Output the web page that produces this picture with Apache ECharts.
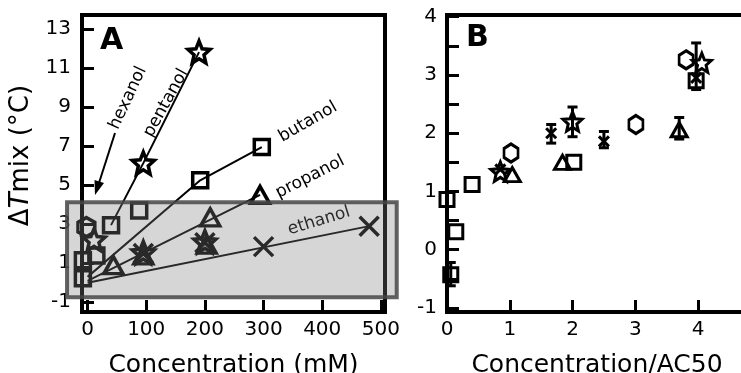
<!DOCTYPE html>
<html>
<head>
<meta charset="utf-8">
<script src="https://cdn.jsdelivr.net/npm/echarts@6/dist/echarts.min.js"></script>
<style>
html,body{margin:0;padding:0;background:#fff}
#chart{width:741px;height:373px}
</style>
</head>
<body>
<div id="chart"></div>
<script>
// tick labels
const aXTicks = [0, 100, 200, 300, 400, 500];
const aYTicks = [-1, 1, 3, 5, 7, 9, 11, 13];
const bXTicks = [0, 1, 2, 3, 4];
const bYLabels = [-1, 0, 1, 2, 3, 4];
const bYTicks = [-1, -0.5, 0, 0.5, 1, 1.5, 2, 2.5, 3, 3.5, 4];

// panel A: [concentration mM, dTmix]
const ethanolA = [[95, 1.5], [200, 2.05], [300, 1.85], [480, 2.9]];
const propanolA = [[44, 0.9], [95, 1.4], [203, 1.95], [209, 3.35], [294, 4.5]];
const butanolA = [[-8, 0.23], [-8, 1.15], [15, 1.4], [40, 2.95], [88, 3.7], [192, 5.25], [297, 6.95]];
const pentanolA = [[11, 2.2], [95, 1.55], [200, 2.1], [95, 6.13], [190, 11.82]];
const hexanolA = [[-2, 2.85]];

// fit lines panel A
const ethanolFit = [[0, 0.0], [480, 2.9]];
const propanolFit = [[0, 0.1], [294, 4.5]];
const butanolFit = [[0, 0.3], [192, 5.25], [297, 6.95]];
const pentanolFit = [[40, 2.95], [95, 6.13], [190, 11.82]];

// shaded region = panel B range: [x0, y0, x1, y1]
const boxA = [[-35, -0.74, 527, 4.13]];

// panel B: [concentration/AC50, dTmix]
const squaresB = [[0, 0.86], [0.14, 0.31], [0.06, -0.43], [0.4, 1.12], [2.02, 1.5], [3.97, 2.9]];
const trianglesB = [[1.04, 1.29], [1.84, 1.5], [3.7, 2.06]];
const hexagonsB = [[1.02, 1.66], [3.01, 2.15], [3.81, 3.26]];
const starsB = [[0.85, 1.34], [2.0, 2.2], [4.06, 3.21]];
const crossesB = [[0.85, 1.38], [1.66, 2.0], [2.5, 1.86], [3.97, 2.95]];
// error bars [x, low, high]
const errB = [[0.06, -0.62, -0.22], [1.66, 1.83, 2.15], [2.0, 1.94, 2.45], [2.5, 1.75, 2.03],
  [3.7, 1.9, 2.27], [3.97, 2.75, 3.55]];

const FONT = 'DejaVu Sans';
const HEX = 'path://M0,-1 L0.866,-0.5 L0.866,0.5 L0,1 L-0.866,0.5 L-0.866,-0.5 Z';
const STAR = 'path://M0,-1 L0.265,-0.364 L0.951,-0.309 L0.428,0.139 L0.588,0.809 L0,0.45 L-0.588,0.809 L-0.428,0.139 L-0.951,-0.309 L-0.265,-0.364 Z';
const CROSS = 'path://M-1,-1 L1,1 M1,-1 L-1,1';

var myChart = echarts.init(document.getElementById('chart'));

function marker(name, data, symbol, size, idx, bw) {
  return {
    name: name, type: 'scatter', xAxisIndex: idx, yAxisIndex: idx,
    data: data, symbol: symbol, symbolSize: size, clip: false, z: 3,
    itemStyle: { color: 'rgba(0,0,0,0)', borderColor: '#000', borderWidth: bw || 3, opacity: 1 }
  };
}
function fit(data) {
  return {
    type: 'line', xAxisIndex: 0, yAxisIndex: 0, data: data, symbol: 'none', z: 2,
    lineStyle: { color: '#000', width: 2 }
  };
}
function axisBase(extra) {
  return Object.assign({
    type: 'value',
    axisLine: { show: true, onZero: false, lineStyle: { color: '#000', width: 4 } },
    splitLine: { show: false },
    nameTextStyle: { color: '#000', fontSize: 25, fontFamily: FONT }
  }, extra);
}

var option = {
  animation: false,
  textStyle: { fontFamily: FONT },
  grid: [
    { left: 82, top: 15, width: 303, height: 297, show: true, borderColor: '#000', borderWidth: 4,
      containLabel: false, outerBoundsMode: 'none' },
    { left: 447, top: 15, width: 300, height: 297, show: true, borderColor: '#000', borderWidth: 4,
      containLabel: false, outerBoundsMode: 'none' }
  ],
  xAxis: [
    axisBase({
      gridIndex: 0, min: -9.5, max: 507,
      axisTick: { inside: true, length: 12, lineStyle: { width: 3 }, customValues: aXTicks },
      axisLabel: { customValues: aXTicks, fontSize: 20, color: '#000', margin: 8 },
      name: 'Concentration (mM)', nameLocation: 'middle', nameGap: 41
    }),
    axisBase({
      gridIndex: 1, min: 0, max: 4.78,
      axisTick: { inside: true, length: 12, lineStyle: { width: 3 }, customValues: bXTicks },
      axisLabel: { customValues: bXTicks, fontSize: 20, color: '#000', margin: 8 },
      name: 'Concentration/AC50', nameLocation: 'middle', nameGap: 41
    })
  ],
  yAxis: [
    axisBase({
      gridIndex: 0, min: -1.5, max: 13.72,
      axisTick: { inside: true, length: 12, lineStyle: { width: 3 }, customValues: aYTicks },
      axisLabel: { customValues: aYTicks, fontSize: 20, color: '#000', margin: 11 },
      name: 'Δ{i|T}mix (°C)', nameLocation: 'middle', nameGap: 48,
      nameTextStyle: {
        color: '#000', fontSize: 26, fontFamily: FONT, padding: [0, 0, 0, 16],
        rich: { i: { fontStyle: 'italic', fontSize: 26, fontFamily: FONT, color: '#000' } }
      }
    }),
    axisBase({
      gridIndex: 1, min: -1.07, max: 4.03,
      axisTick: { inside: true, length: 12, lineStyle: { width: 3 }, customValues: bYTicks },
      axisLabel: { customValues: bYLabels, fontSize: 20, color: '#000', margin: 10 }
    })
  ],
  graphic: [
    { type: 'text', left: 100, top: 26, style: { text: 'A', font: 'bold 30px "DejaVu Sans"', fill: '#000' } },
    { type: 'text', left: 466, top: 23, style: { text: 'B', font: 'bold 30px "DejaVu Sans"', fill: '#000' } },
    { type: 'text', x: 128, y: 98, rotation: 65 * Math.PI / 180,
      style: { text: 'hexanol', font: '17px "DejaVu Sans"', fill: '#000', align: 'center', verticalAlign: 'middle' } },
    { type: 'text', x: 166, y: 103, rotation: 61 * Math.PI / 180,
      style: { text: 'pentanol', font: '17px "DejaVu Sans"', fill: '#000', align: 'center', verticalAlign: 'middle' } },
    { type: 'text', x: 308, y: 122, rotation: 30 * Math.PI / 180,
      style: { text: 'butanol', font: '17px "DejaVu Sans"', fill: '#000', align: 'center', verticalAlign: 'middle' } },
    { type: 'text', x: 310, y: 177, rotation: 27 * Math.PI / 180,
      style: { text: 'propanol', font: '17px "DejaVu Sans"', fill: '#000', align: 'center', verticalAlign: 'middle' } },
    { type: 'text', x: 319, y: 221, rotation: 17 * Math.PI / 180,
      style: { text: 'ethanol', font: '17px "DejaVu Sans"', fill: '#000', align: 'center', verticalAlign: 'middle' } },
    { type: 'line', shape: { x1: 115, y1: 133, x2: 98, y2: 186 }, style: { stroke: '#000', lineWidth: 2 } },
    { type: 'polygon', shape: { points: [[95, 195], [104, 183], [94.5, 180]] }, style: { fill: '#000' } }
  ],
  series: [
    fit(ethanolFit), fit(propanolFit), fit(butanolFit), fit(pentanolFit),
    marker('ethanol', ethanolA, CROSS, 19, 0, 3.5),
    marker('propanol', propanolA, 'triangle', [19, 17], 0, 3.5),
    marker('butanol', butanolA, 'rect', 15, 0, 3.5),
    marker('pentanol', pentanolA, STAR, 22, 0, 3.5),
    marker('hexanol', hexanolA, HEX, [17, 19], 0, 3.5),
    {
      type: 'custom', xAxisIndex: 0, yAxisIndex: 0, data: boxA, clip: false, z: 10,
      renderItem: function (params, api) {
        var p0 = api.coord([api.value(0), api.value(3)]);
        var p1 = api.coord([api.value(2), api.value(1)]);
        return {
          type: 'rect',
          shape: { x: p0[0], y: p0[1], width: p1[0] - p0[0], height: p1[1] - p0[1] },
          style: { fill: 'rgba(128,128,128,0.32)', stroke: 'rgba(70,70,70,0.85)', lineWidth: 4 }
        };
      }
    },
    {
      type: 'custom', xAxisIndex: 1, yAxisIndex: 1, data: errB, clip: false, z: 3,
      encode: { x: 0, y: [1, 2] },
      renderItem: function (params, api) {
        var hi = api.coord([api.value(0), api.value(2)]);
        var lo = api.coord([api.value(0), api.value(1)]);
        var w = 5, st = { stroke: '#000', lineWidth: 3 };
        return {
          type: 'group', children: [
            { type: 'line', shape: { x1: hi[0], y1: hi[1], x2: lo[0], y2: lo[1] }, style: st },
            { type: 'line', shape: { x1: hi[0] - w, y1: hi[1], x2: hi[0] + w, y2: hi[1] }, style: st },
            { type: 'line', shape: { x1: lo[0] - w, y1: lo[1], x2: lo[0] + w, y2: lo[1] }, style: st }
          ]
        };
      }
    },
    marker('squaresB', squaresB, 'rect', 14, 1),
    marker('trianglesB', trianglesB, 'triangle', [16, 14], 1),
    marker('hexagonsB', hexagonsB, HEX, [14, 18], 1),
    marker('starsB', starsB, STAR, 19, 1),
    marker('crossesB', crossesB, CROSS, 10, 1)
  ]
};
myChart.setOption(option);
window.addEventListener('resize', () => {
  myChart.resize();
});
</script>
</body>
</html>
